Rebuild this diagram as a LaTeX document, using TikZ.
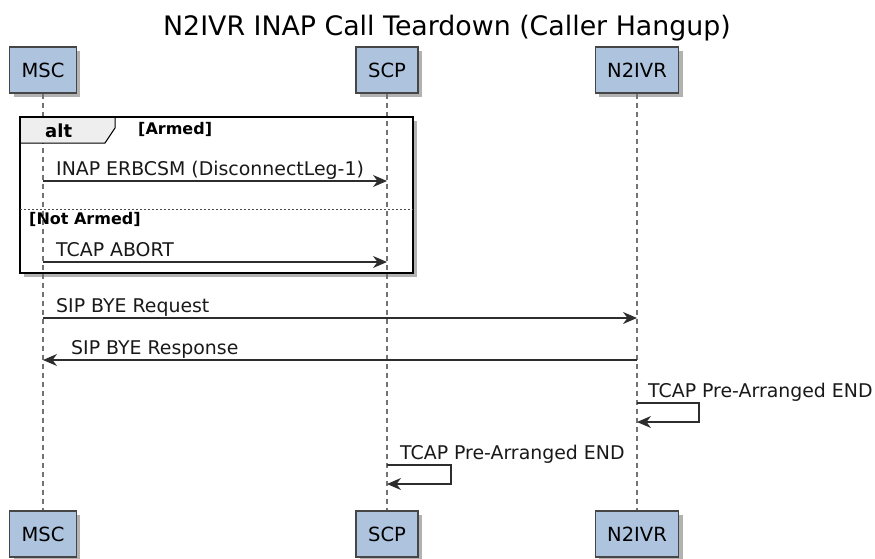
\documentclass[tikz,border=0pt]{standalone}
\usepackage{fontspec}
\setmainfont{DejaVu Sans}
\usepackage{tikz}
\usepackage{xcolor}
\usetikzlibrary{positioning,shadows,arrows.meta}

\definecolor{partblue}{RGB}{174,196,222}
\definecolor{partedge}{RGB}{70,70,70}
\definecolor{lifegray}{RGB}{115,115,115}
\definecolor{msgdark}{RGB}{45,45,45}
\definecolor{tabgray}{RGB}{238,238,238}
\newcommand\titlefont{\fontsize{26.8}{31}\selectfont}
\newcommand\msgfont{\fontsize{18.9}{22}\selectfont}
\newcommand\partfont{\fontsize{19.5}{23}\selectfont}
\newcommand\grpfont{\fontsize{18}{21}\selectfont\bfseries}
\newcommand\guardfont{\fontsize{16}{19}\selectfont\bfseries}

\begin{document}
\begin{tikzpicture}[x=1pt,y=1pt]
\tikzstyle{every node}+=[inner sep=0pt]
\tikzstyle{part}=[draw=partedge, line width=1.3pt, fill=partblue, minimum height=46pt, inner xsep=12pt, font=\partfont, drop shadow={shadow xshift=4pt, shadow yshift=-4pt, fill=black, opacity=0.3}]
\tikzstyle{life}=[lifegray, line width=1.8pt, dash pattern=on 5pt off 4pt]
\tikzstyle{msg}=[msgdark, line width=1.2pt, -{Stealth[length=14pt, width=12pt, inset=4.5pt]}]
\tikzstyle{lbl}=[anchor=base west, font=\msgfont, text=black!90]
\tikzstyle{altframe}=[black, line width=2.8pt]
\tikzstyle{sep}=[black!70, line width=1pt, dash pattern=on 2pt off 2pt]
\useasboundingbox (0,0) rectangle (875,-558);

% title
\node [anchor=base] (title) at (447,-35) {\titlefont N2IVR INAP Call Teardown (Caller Hangup)};

% participants, top and bottom
\node [part] (msc) at (43,-70) {MSC};
\node [part] (scp) at (387,-70) {SCP};
\node [part] (n2ivr) at (637,-70) {N2IVR};
\node [part] (mscB) at (43,-534) {MSC};
\node [part] (scpB) at (387,-534) {SCP};
\node [part] (n2ivrB) at (637,-534) {N2IVR};

% alt group
\coordinate (altNW) at (20,-117);
\coordinate (altSE) at (413,-273);
\fill [white, drop shadow={shadow xshift=4pt, shadow yshift=-4pt, fill=black, opacity=0.3}] (altNW) rectangle (altSE);

% lifelines
\draw [life] (msc) -- (mscB);
\draw [life] (scp) -- (scpB);
\draw [life] (n2ivr) -- (n2ivrB);

\draw [black, line width=1pt, fill=tabgray] (20,-117) -- (115,-117) -- (115,-128) -- (105,-143) -- (20,-143);
\draw [altframe] (altNW) rectangle (altSE);
\draw [sep] (20,-209) -- (413,-209);
\node [anchor=base west, font=\grpfont] (alt) at (45,-137) {alt};
\node [anchor=base west, font=\guardfont] (armed) at (138,-134) {[Armed]};
\node [anchor=base west, font=\guardfont] (notarmed) at (29,-224) {[Not Armed]};

% message rows
\coordinate (r1) at (0,-181);
\coordinate (r2) at (0,-262);
\coordinate (r3) at (0,-318);
\coordinate (r4) at (0,-360);
\coordinate (r5a) at (0,-403);
\coordinate (r5b) at (0,-422);
\coordinate (r6a) at (0,-465);
\coordinate (r6b) at (0,-484);

\draw [msg] (msc |- r1) -- (scp |- r1);
\node [lbl] (m1) at (56,-175) {INAP ERBCSM (DisconnectLeg-1)};
\draw [msg] (msc |- r2) -- (scp |- r2);
\node [lbl] (m2) at (56,-256) {TCAP ABORT};
\draw [msg] (msc |- r3) -- (n2ivr |- r3);
\node [lbl] (m3) at (56,-312) {SIP BYE Request};
\draw [msg] (n2ivr |- r4) -- (msc |- r4);
\node [lbl] (m4) at (71,-354) {SIP BYE Response};
\draw [msg] (n2ivr |- r5a) -- ++(62,0) |- (n2ivr |- r5b);
\node [lbl] (m5) at (648,-397) {TCAP Pre-Arranged END};
\draw [msg] (scp |- r6a) -- ++(64,0) |- (scp |- r6b);
\node [lbl] (m6) at (400,-459) {TCAP Pre-Arranged END};
\end{tikzpicture}
\end{document}
